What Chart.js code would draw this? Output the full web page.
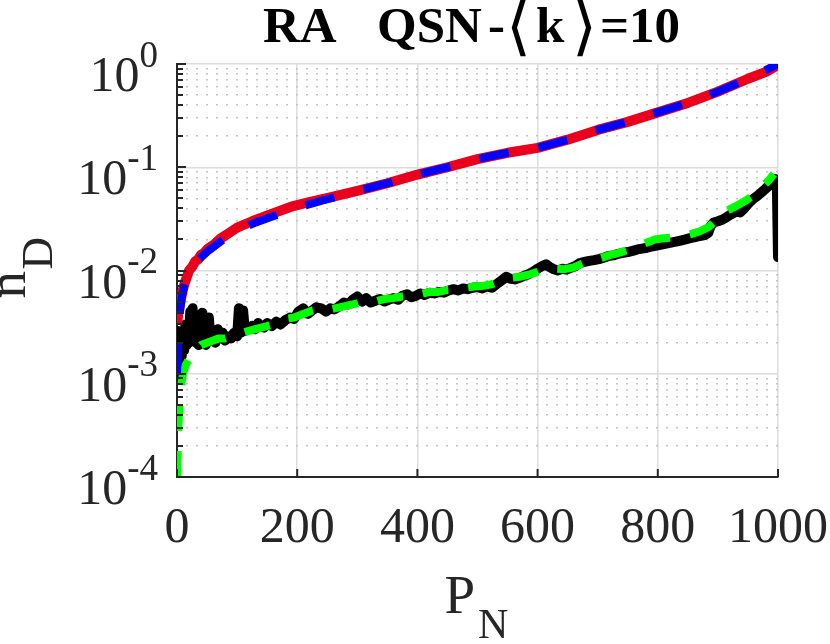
<!DOCTYPE html>
<html>
<head>
<meta charset="utf-8">
<script src="https://cdn.jsdelivr.net/npm/chart.js@4.4.1/dist/chart.umd.min.js"></script>
<style>
  html, body { margin: 0; padding: 0; background: #ffffff; }
  #wrap { width: 830px; height: 644px; }
</style>
</head>
<body>
<div id="wrap"><canvas id="c" width="830" height="644"></canvas></div>
<script>
// ---------------- data ----------------
const titleParts = ['RA', 'QSN', '-', '\u27E8', 'k', '\u27E9', '=10'];
const xTitleMain = 'P', xTitleSub = 'N';
const yTitleMain = 'n', yTitleSub = 'D';
const xTickValues = [0, 200, 400, 600, 800, 1000];
const yTickExps = [0, -1, -2, -3, -4];

const redP = [0,2,5,8,10,13,16,20,25,30,35,40,45,50,60,72,85,100,125,155,190,220,260,300,350,400,450,500,550,600,650,700,750,800,850,900,950,980,1000];
const redN = [0.0030,0.0038,0.0047,0.0058,0.0066,0.0076,0.0085,0.0100,0.0108,0.0122,0.0128,0.0142,0.0148,0.0160,0.0176,0.0203,0.0228,0.0260,0.0300,0.0350,0.0415,0.0460,0.0520,0.0590,0.0700,0.0850,0.1000,0.1200,0.1380,0.1540,0.1850,0.2300,0.2750,0.3400,0.4200,0.5400,0.7200,0.8400,0.9800];

const blueP = [0,1,2,3,5,8,12,17,25,35,50,72,100,130,160,200,250,300,350,400,450,500,550,600,650,700,750,800,850,900,950,1000];
const blueN = [0.0010,0.0014,0.0019,0.0026,0.0040,0.0055,0.0072,0.0088,0.0108,0.0126,0.0152,0.0190,0.0245,0.0290,0.0335,0.0405,0.0490,0.0590,0.0700,0.0850,0.1000,0.1200,0.1380,0.1540,0.1850,0.2300,0.2750,0.3400,0.4200,0.5400,0.7200,1.0000];

const greenP = [0,1,2,3,4,6,8,10,14,20,26,32,40,50,60,70,80,90,100,110,120,130,140,150,165,180,195,210,225,240,255,270,285,300,315,330,345,360,375,390,405,420,435,450,465,480,495,510,525,540,555,570,585,600,615,630,645,660,675,690,705,720,735,750,765,780,795,810,825,840,855,870,885,900,915,930,945,960,975,985,993];
const greenN = [0.00010,0.00016,0.00026,0.00038,0.00048,0.00065,0.00085,0.0010,0.0012,0.0014,0.0016,0.0017,0.0019,0.0020,0.0021,0.0022,0.0022,0.0023,0.0024,0.0025,0.0026,0.0027,0.0028,0.0029,0.0031,0.0034,0.0035,0.0038,0.0041,0.0043,0.0042,0.0044,0.0046,0.0048,0.0051,0.0050,0.0053,0.0054,0.0056,0.0057,0.0059,0.0062,0.0062,0.0065,0.0066,0.0068,0.0070,0.0071,0.0074,0.0080,0.0085,0.0087,0.0091,0.0097,0.0106,0.0104,0.0103,0.0107,0.0117,0.0126,0.0132,0.0141,0.0148,0.0158,0.0170,0.0185,0.0200,0.0205,0.0208,0.0215,0.0225,0.0240,0.0265,0.0320,0.0380,0.0420,0.0470,0.0540,0.0660,0.0750,0.0860];

const blackP = [0,1,2,3,4,5,6,8,10,12,14,16,18,20,22,24,26,28,30,32,34,36,38,40,42,44,46,48,50,53,56,60,64,68,72,76,80,85,90,95,
  100,103,106,110,113,118,125,130,135,140,145,150,158,165,172,180,188,195,202,210,218,225,232,240,248,255,262,270,278,285,292,
  300,308,315,322,330,338,345,352,360,368,375,383,390,398,405,412,420,428,436,444,452,460,468,476,484,492,
  500,508,516,524,532,540,548,555,562,570,578,585,592,600,607,614,620,627,634,641,648,655,662,670,678,686,694,
  702,710,718,726,734,742,750,758,766,774,782,790,798,806,814,822,830,838,846,854,862,870,878,884,888,893,
  900,908,915,922,930,937,944,950,958,966,974,982,990,995,998,1000];
const blackN = [0.0026,0.0011,0.00092,0.0012,0.0016,0.0013,0.0021,0.0015,0.0024,0.0017,0.0030,0.0019,0.0025,0.0020,0.0040,0.0021,0.0043,0.0022,0.0031,0.0020,0.0027,0.0019,0.0037,0.0022,0.0039,0.0021,0.0025,0.0019,0.0022,0.0035,0.0021,0.0023,0.0020,0.0027,0.0022,0.0025,0.0021,0.0023,0.0022,0.0025,
  0.0023,0.0043,0.0025,0.0041,0.0026,0.0027,0.0029,0.0027,0.0031,0.0029,0.0028,0.0031,0.0029,0.0032,0.0030,0.0033,0.0035,0.0034,0.0040,0.0043,0.0038,0.0041,0.0044,0.0043,0.0040,0.0043,0.0042,0.0045,0.0049,0.0047,0.0052,
  0.0056,0.0050,0.0054,0.0049,0.0051,0.0053,0.0050,0.0052,0.0054,0.0052,0.0057,0.0059,0.0055,0.0057,0.0060,0.0058,0.0061,0.0060,0.0062,0.0061,0.0064,0.0066,0.0064,0.0067,0.0066,0.0068,
  0.0069,0.0067,0.0070,0.0068,0.0074,0.0080,0.0087,0.0083,0.0082,0.0085,0.0089,0.0092,0.0097,0.0104,0.0110,0.0115,0.0108,0.0103,0.0100,0.0104,0.0102,0.0106,0.0110,0.0118,0.0121,0.0124,0.0126,
  0.0129,0.0133,0.0138,0.0140,0.0145,0.0148,0.0151,0.0155,0.0160,0.0163,0.0166,0.0171,0.0174,0.0178,0.0182,0.0186,0.0190,0.0195,0.0200,0.0206,0.0211,0.0216,0.0220,0.0232,0.0270,0.0292,
  0.0300,0.0312,0.0330,0.0350,0.0372,0.0365,0.0400,0.0440,0.0490,0.0530,0.0580,0.0640,0.0720,0.0770,0.0720,0.0135];

// ---------------- helpers ----------------
const pts = (xs, ys) => xs.map((v, i) => ({ x: v, y: ys[i] }));
const SERIF = '"Liberation Serif", "Times New Roman", serif';
const INK = '#262626';

const decor = {
  id: 'decor',
  afterDraw(chart) {
    const { ctx, chartArea: a, scales } = chart;
    const xs = scales.x, ys = scales.y;
    ctx.save();
    // inward tick marks
    ctx.strokeStyle = INK;
    ctx.lineWidth = 2;
    ctx.setLineDash([]);
    ys.ticks.forEach(t => {
      const py = Math.round(ys.getPixelForValue(t.value));
      const len = t.major ? 9 : 6;
      ctx.beginPath(); ctx.moveTo(a.left, py); ctx.lineTo(a.left + len, py); ctx.stroke();
    });
    xs.ticks.forEach(t => {
      const px = xs.getPixelForValue(t.value);
      ctx.beginPath(); ctx.moveTo(px, a.bottom); ctx.lineTo(px, a.bottom - 8); ctx.stroke();
    });

    // y tick labels 10^e
    ctx.fillStyle = INK;
    ctx.textAlign = 'left';
    ctx.textBaseline = 'alphabetic';
    yTickExps.forEach(e => {
      const py = ys.getPixelForValue(Math.pow(10, e));
      const exp = String(e);
      ctx.font = '50px ' + SERIF;
      const w1 = ctx.measureText('10').width;
      ctx.font = '37px ' + SERIF;
      const w2 = ctx.measureText(exp).width;
      const x0 = a.left - 19 - w1 - w2;
      ctx.font = '50px ' + SERIF;
      ctx.fillText('10', x0, py + 27);
      ctx.font = '37px ' + SERIF;
      ctx.fillText(exp, x0 + w1, py + 2.5);
    });

    // title
    const cx = (a.left + a.right) / 2;
    const tx = [263, 377, 488, 506, 536, 572, 600];
    const bold = 'bold 51px ' + SERIF;
    const brk = '64px "DejaVu Sans", ' + SERIF;
    ctx.fillStyle = '#000000';
    titleParts.forEach((s, i) => {
      const isBr = (i === 3 || i === 5);
      ctx.font = isBr ? brk : bold;
      ctx.fillText(s, cx + (tx[i] - 477.5), isBr ? 48 : 42);
    });

    // x axis title P_N
    ctx.fillStyle = INK;
    ctx.font = '55px ' + SERIF;
    ctx.fillText(xTitleMain, cx - 33, 613);
    ctx.font = '42px ' + SERIF;
    ctx.fillText(xTitleSub, cx + 0.5, 638);

    // y axis title n_D (rotated)
    const cy = (a.top + a.bottom) / 2;
    ctx.rotate(-Math.PI / 2);
    ctx.font = '55px ' + SERIF;
    ctx.fillText(yTitleMain, -(cy + 28), 25);
    ctx.font = '45px ' + SERIF;
    ctx.fillText(yTitleSub, -(cy - 1), 52);
    ctx.restore();
  }
};

const yGridTicks = [];
for (let e = -4; e <= -1; e++) {
  for (let m = 1; m <= 9; m++) yGridTicks.push({ value: m * Math.pow(10, e), major: m === 1 });
}
yGridTicks.push({ value: 1, major: true });

new Chart(document.getElementById('c'), {
  type: 'line',
  data: {
    datasets: [
      { label: 'blue', data: pts(blueP, blueN), borderColor: '#0000ff', borderWidth: 8, borderDash: [30, 30], borderCapStyle: 'butt', pointRadius: 0, tension: 0 },
      { label: 'red', data: pts(redP, redN), borderColor: 'rgb(232,0,28)', borderWidth: 10, borderJoinStyle: 'round', pointRadius: 0, tension: 0 },
      { label: 'green', data: pts(greenP, greenN), borderColor: '#00ff00', borderWidth: 8, borderDash: [26, 20], borderCapStyle: 'butt', borderJoinStyle: 'round', pointRadius: 0, tension: 0 },
      { label: 'black', data: pts(blackP, blackN), borderColor: '#000000', borderWidth: 10, borderJoinStyle: 'round', borderCapStyle: 'round', pointRadius: 0, tension: 0 }
    ]
  },
  options: {
    responsive: false,
    animation: false,
    devicePixelRatio: 1,
    layout: { padding: { left: 0, right: 52, top: 64, bottom: 63 } },
    plugins: { legend: { display: false }, tooltip: { enabled: false }, title: { display: false } },
    scales: {
      x: {
        type: 'linear', min: 0, max: 1000,
        afterBuildTicks: s => { s.ticks = xTickValues.map(v => ({ value: v })); },
        afterFit: s => { s.paddingLeft = 0; s.paddingRight = 0; },
        ticks: { autoSkip: false, maxRotation: 0, color: INK, padding: 22, font: { family: 'Liberation Serif', size: 50 }, callback: v => String(v) },
        grid: { color: '#dcdcdc', lineWidth: 1.5, drawTicks: false },
        border: { color: INK, width: 2 }
      },
      y: {
        type: 'logarithmic', min: 0.0001, max: 1,
        afterBuildTicks: s => { s.ticks = yGridTicks.map(t => ({ value: t.value, major: t.major })); },
        afterFit: s => { s.width = 177; },
        ticks: { display: false },
        grid: {
          drawTicks: false,
          color: c => (c.tick && c.tick.major) ? '#dcdcdc' : '#c4c4c4',
          lineWidth: 1.5
        },
        border: {
          color: INK, width: 2,
          dash: c => (c.tick && !c.tick.major) ? [2, 8] : [],
          dashOffset: 2
        }
      }
    }
  },
  plugins: [decor]
});
</script>
</body>
</html>
